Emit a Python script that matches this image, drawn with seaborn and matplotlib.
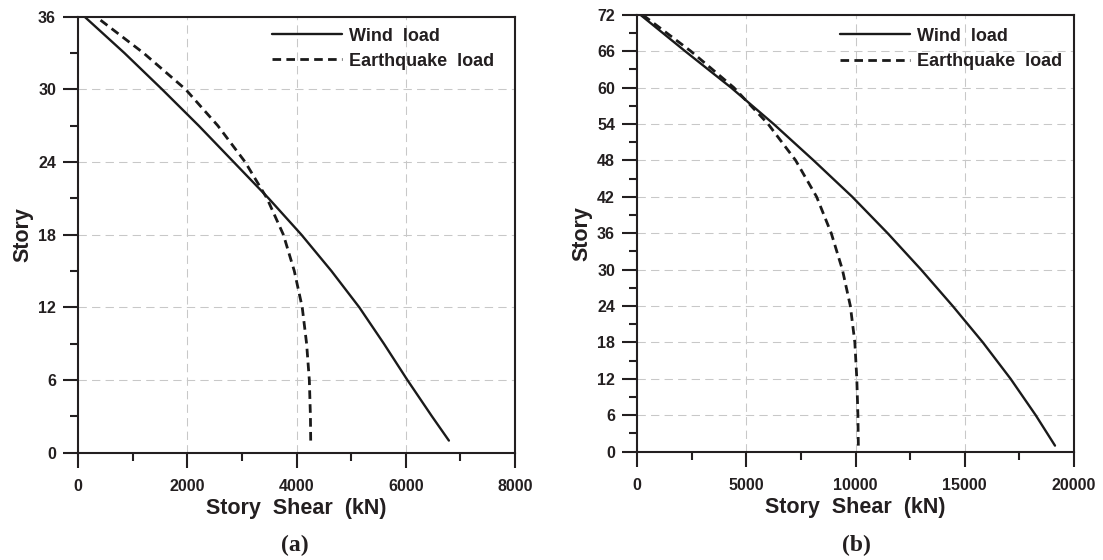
import matplotlib
matplotlib.use("Agg")
import matplotlib.pyplot as plt
from matplotlib.ticker import MultipleLocator
import seaborn as sns
import pandas as pd

# ---------------- data ----------------
stories_a = [1, 3, 6, 9, 12, 15, 18, 21, 24, 27, 30, 33, 36]
wind_a = [6790, 6480, 6030, 5600, 5150, 4640, 4090, 3490, 2850, 2210, 1540, 850, 120]
quake_a = [4260, 4255, 4235, 4185, 4105, 3960, 3760, 3460, 3060, 2560, 1970, 1200, 330]

stories_b = [1, 6, 12, 18, 24, 30, 36, 42, 48, 54, 60, 66, 72]
wind_b = [19130, 18250, 17100, 15830, 14450, 13000, 11470, 9850, 8080, 6250, 4300, 2200, 150]
quake_b = [10130, 10110, 10060, 9970, 9765, 9400, 8890, 8220, 7260, 6000, 4430, 2460, 250]

series_labels = ["Wind  load", "Earthquake  load"]
panel_labels = ["(a)", "(b)"]
x_label = "Story  Shear  (kN)"
y_label = "Story"

# ---------------- style ----------------
sns.set_theme(style="ticks")
plt.rcParams["font.family"] = ["Liberation Sans", "DejaVu Sans"]
plt.rcParams["font.weight"] = "bold"
TXT = "#231f20"
LINE = "#1a1a1a"

fig = plt.figure(figsize=(11.03, 5.6), dpi=100)
ax_a = fig.add_axes([78 / 1103, (560 - 452.7) / 560, 437 / 1103, 436 / 560])
ax_b = fig.add_axes([637 / 1103, (560 - 451.7) / 560, 437 / 1103, 437 / 560])

panels = [
    (ax_a, stories_a, wind_a, quake_a, 8000, 2000, 1000, 36, 6, 3, 0.443, 0.975),
    (ax_b, stories_b, wind_b, quake_b, 20000, 5000, 2500, 72, 6, 3, 0.4645, 0.97),
]

for ax, st, wv, qv, xmax, xmaj, xmin, ymax, ymaj, ymin, lx, ly in panels:
    df_w = pd.DataFrame({"shear": wv, "story": st})
    df_q = pd.DataFrame({"shear": qv, "story": st})
    sns.lineplot(data=df_w, x="shear", y="story", ax=ax, sort=False, estimator=None,
                 orient="y", color=LINE, lw=1.7, label=series_labels[0])
    sns.lineplot(data=df_q, x="shear", y="story", ax=ax, sort=False, estimator=None,
                 orient="y", color=LINE, lw=2.0, linestyle=(0, (3.1, 1.9)),
                 label=series_labels[1])

    ax.set_xlim(0, xmax)
    ax.set_ylim(0, ymax)
    ax.xaxis.set_major_locator(MultipleLocator(xmaj))
    ax.xaxis.set_minor_locator(MultipleLocator(xmin))
    ax.yaxis.set_major_locator(MultipleLocator(ymaj))
    ax.yaxis.set_minor_locator(MultipleLocator(ymin))

    ax.grid(True, which="major", color="#c8c8c8", lw=0.75, linestyle=(0, (8, 5)))
    ax.set_axisbelow(True)

    for sp in ax.spines.values():
        sp.set_visible(True)
        sp.set_linewidth(1.5)
        sp.set_color(TXT)

    ax.tick_params(which="major", direction="out", length=10.8, width=1.5, color=TXT,
                   labelsize=11.5, labelcolor=TXT)
    ax.tick_params(which="minor", direction="out", length=5.8, width=1.5, color=TXT)
    ax.tick_params(axis="x", which="major", pad=8)
    ax.tick_params(axis="y", which="major", pad=5)
    ax.tick_params(top=False, right=False, which="both")
    for lab in ax.get_xticklabels() + ax.get_yticklabels():
        lab.set_fontweight("bold")

    ax.set_xlabel(x_label, fontsize=15.5, fontweight="bold", color=TXT, labelpad=3)
    ax.set_ylabel(y_label, fontsize=15.5, fontweight="bold", color=TXT, labelpad=3.5)

    leg = ax.legend(loc="upper left", bbox_to_anchor=(lx, ly), frameon=False,
                    fontsize=13, handlelength=3.88, handletextpad=0.4,
                    labelspacing=0.45, borderpad=0, borderaxespad=0)
    for t in leg.get_texts():
        t.set_color(TXT)
        t.set_fontweight("bold")

fig.text(295 / 1103, 1 - 545 / 560, panel_labels[0], ha="center", va="center",
         fontsize=17, fontweight="bold", family=["Liberation Serif", "DejaVu Serif"], color=TXT)
fig.text(856 / 1103, 1 - 545 / 560, panel_labels[1], ha="center", va="center",
         fontsize=17, fontweight="bold", family=["Liberation Serif", "DejaVu Serif"], color=TXT)

fig.savefig("out.png", dpi=100)
